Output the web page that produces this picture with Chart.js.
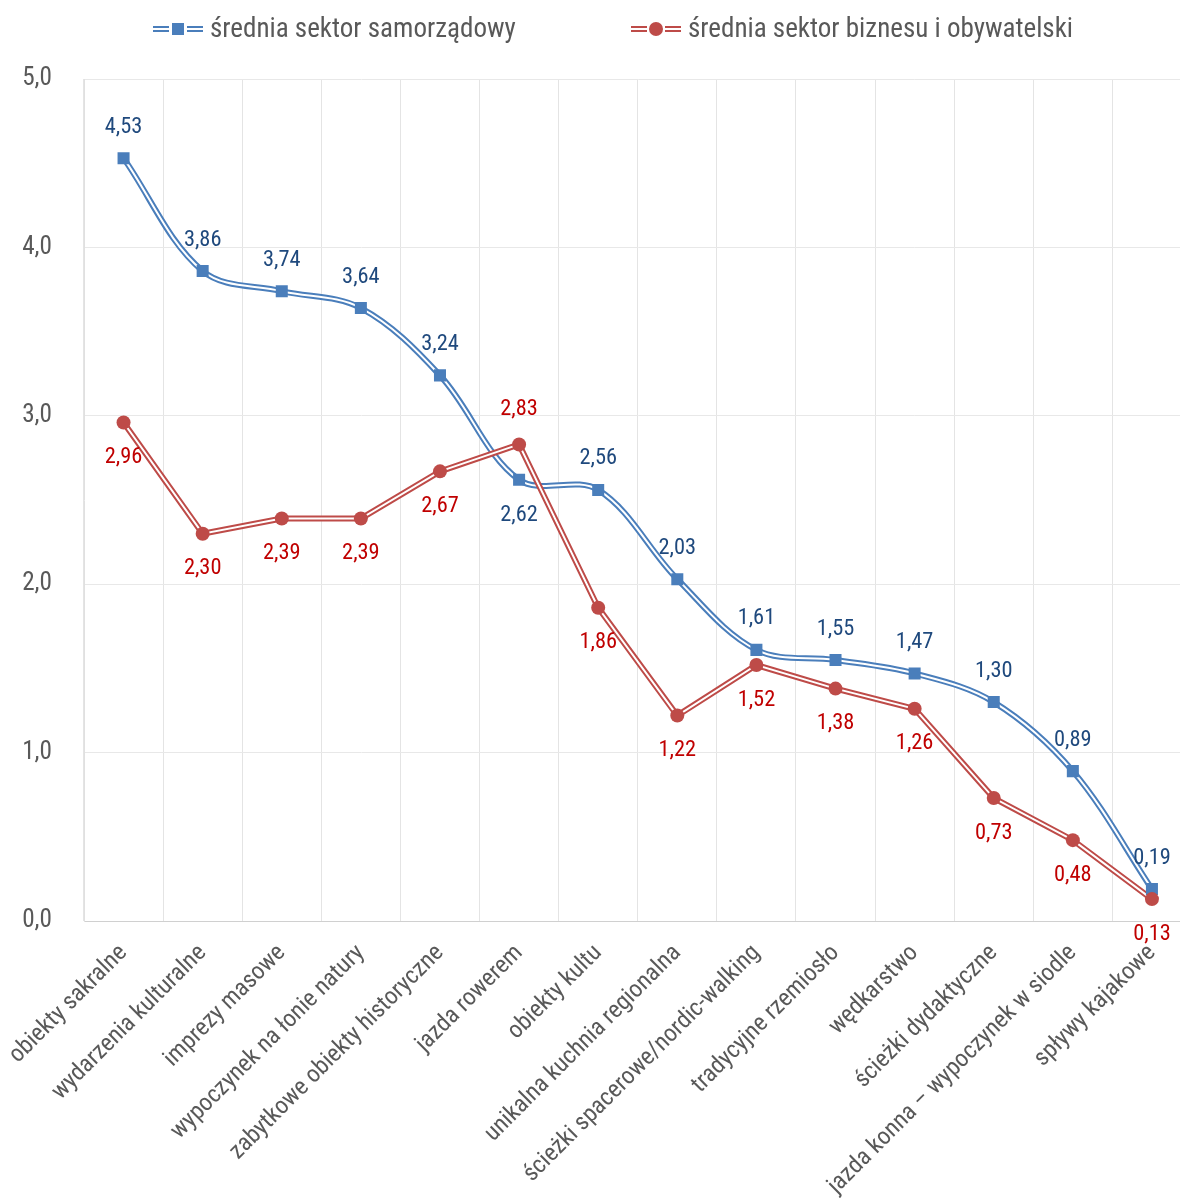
<!DOCTYPE html>
<html lang="pl">
<head>
    <meta charset="UTF-8">
    <title>Średnie oceny – sektory</title>
    <script src="https://cdn.jsdelivr.net/npm/chart.js"></script>
    <style>
        html, body { margin: 0; padding: 0; background: #fff; overflow: hidden; }
        #wrap { width: 1200px; height: 1202px; }
    </style>
</head>
<body>
    <div id="wrap"><canvas id="wykres"></canvas></div>

    <script>
        // Dane z wykresu
        const kategorie = [
            'obiekty sakralne', 'wydarzenia kulturalne', 'imprezy masowe', 'wypoczynek na łonie natury',
            'zabytkowe obiekty historyczne', 'jazda rowerem', 'obiekty kultu', 'unikalna kuchnia regionalna',
            'ścieżki spacerowe/nordic-walking', 'tradycyjne rzemiosło', 'wędkarstwo', 'ścieżki dydaktyczne',
            'jazda konna – wypoczynek w siodle', 'spływy kajakowe'
        ];
        const samorzadowy = [4.53, 3.86, 3.74, 3.64, 3.24, 2.62, 2.56, 2.03, 1.61, 1.55, 1.47, 1.30, 0.89, 0.19];
        const biznesObywatelski = [2.96, 2.30, 2.39, 2.39, 2.67, 2.83, 1.86, 1.22, 1.52, 1.38, 1.26, 0.73, 0.48, 0.13];
        const nazwySerii = ['średnia sektor samorządowy', 'średnia sektor biznesu i obywatelski'];
        // które etykiety idą pod punkt (niebieskie) / nad punkt (czerwone)
        const niebieskiePod = [5];
        const czerwoneNad = [5];
        const yTicks = [0, 1, 2, 3, 4, 5];

        const NIEBIESKI = '#4a7ebb';
        const CZERWONY = '#be4b48';
        const SZARY = '#595959';

        // szukamy wąskiego kroju (jak Arial Narrow), inaczej zwykły Liberation Sans
        const sonda = document.createElement('canvas').getContext('2d');
        function szer(font, txt) {
            sonda.font = '10px serif';
            sonda.font = font;
            return sonda.measureText(txt).width;
        }
        const PROBA = nazwySerii[0];
        const kandydaci = [
            { rodzina: 'Liberation Sans Narrow' },
            { rodzina: 'Arial Narrow' },
            { rodzina: 'Nimbus Sans Narrow' },
            { rodzina: 'Roboto Condensed' },
            { rodzina: 'Roboto', rozciag: true },
            { rodzina: 'Noto Sans', rozciag: true },
            { rodzina: 'Open Sans', rozciag: true },
            { rodzina: 'DejaVu Sans Condensed' }
        ];
        let krój = { rodzina: 'Liberation Sans' };
        for (const k of kandydaci) {
            if (k.rozciag) {
                const a = szer(`100px "${k.rodzina}", monospace`, PROBA);
                const b = szer(`condensed 100px "${k.rodzina}", monospace`, PROBA);
                if (a !== szer('100px monospace', PROBA) && b < a * 0.95) { krój = k; break; }
            } else if (szer(`100px "${k.rodzina}", monospace`, PROBA) !== szer('100px monospace', PROBA)) {
                krój = k; break;
            }
        }
        const RODZINA = `"${krój.rodzina}", "Liberation Sans", Arial, sans-serif`;
        const WAGA = krój.rozciag ? 'condensed' : 'normal';
        // dopasowanie rozmiaru do szerokości tekstu legendy (306 px)
        const w100 = szer(`normal ${WAGA} 100px ${RODZINA}`, PROBA);
        const L = 306 * 100 / w100;
        const R = { legenda: L, osY: L * 27 / 29, etykiety: L * 24 / 29, osX: L * 26 / 29 };

        Chart.defaults.font.family = RODZINA;
        Chart.defaults.font.weight = WAGA;
        Chart.defaults.color = SZARY;

        const etykietyPlugin = {
            id: 'etykiety',
            afterDatasetsDraw(chart) {
                const ctx = chart.ctx;
                ctx.save();
                ctx.font = `normal ${WAGA} ${R.etykiety}px ${RODZINA}`;
                ctx.textAlign = 'center';
                ctx.textBaseline = 'middle';
                chart.data.datasets.forEach((ds, i) => {
                    if (!ds.etykiety) return;
                    const meta = chart.getDatasetMeta(i);
                    meta.data.forEach((pt, j) => {
                        const txt = ds.data[j].toFixed(2).replace('.', ',');
                        let dy;
                        if (ds.etykiety === 'blue') dy = niebieskiePod.includes(j) ? 36 : -31;
                        else dy = czerwoneNad.includes(j) ? -35 : 35;
                        ctx.fillStyle = ds.etykiety === 'blue' ? '#1f497d' : '#c00000';
                        ctx.fillText(txt, pt.x, pt.y + dy);
                    });
                });
                ctx.restore();
            }
        };

        // legenda rysowana ręcznie: podwójna linia + znacznik
        const legendaPlugin = {
            id: 'legenda',
            afterDraw(chart) {
                const ctx = chart.ctx;
                const y = 29;
                const pozycje = [
                    { x: 153, tx: 210, kolor: NIEBIESKI, ksztalt: 'rect' },
                    { x: 631, tx: 688, kolor: CZERWONY, ksztalt: 'circle' }
                ];
                ctx.save();
                pozycje.forEach((p, i) => {
                    ctx.lineCap = 'butt';
                    ctx.strokeStyle = p.kolor; ctx.lineWidth = 6;
                    ctx.beginPath(); ctx.moveTo(p.x, y); ctx.lineTo(p.x + 50, y); ctx.stroke();
                    ctx.strokeStyle = '#fff'; ctx.lineWidth = 2;
                    ctx.beginPath(); ctx.moveTo(p.x, y); ctx.lineTo(p.x + 50, y); ctx.stroke();
                    ctx.fillStyle = '#fff';
                    ctx.fillRect(p.x + 16, y - 9, 18, 18);
                    ctx.fillStyle = p.kolor;
                    if (p.ksztalt === 'rect') {
                        ctx.fillRect(p.x + 19, y - 6, 12, 12);
                    } else {
                        ctx.beginPath(); ctx.arc(p.x + 25, y, 7, 0, Math.PI * 2); ctx.fill();
                    }
                    ctx.font = `normal ${WAGA} ${R.legenda}px ${RODZINA}`;
                    ctx.fillStyle = SZARY;
                    ctx.textAlign = 'left';
                    ctx.textBaseline = 'middle';
                    ctx.fillText(nazwySerii[i], p.tx, y + 1);
                });
                ctx.restore();
            }
        };

        const ctx = document.getElementById('wykres').getContext('2d');
        new Chart(ctx, {
            type: 'line',
            data: {
                labels: kategorie,
                datasets: [
                    { label: nazwySerii[0], data: samorzadowy, borderColor: NIEBIESKI, borderWidth: 6, pointRadius: 0, tension: 0.35, order: 60 },
                    { label: 'b-in', data: samorzadowy, borderColor: '#fff', borderWidth: 2, pointRadius: 0, tension: 0.35, order: 50 },
                    { label: nazwySerii[1], data: biznesObywatelski, borderColor: CZERWONY, borderWidth: 6, pointRadius: 0, tension: 0, order: 40 },
                    { label: 'r-in', data: biznesObywatelski, borderColor: '#fff', borderWidth: 2, pointRadius: 0, tension: 0, order: 30 },
                    { label: 'b-pt', data: samorzadowy, showLine: false, pointStyle: 'rect', pointRadius: 8.5, pointBackgroundColor: NIEBIESKI, pointBorderWidth: 0, order: 20, etykiety: 'blue' },
                    { label: 'r-pt', data: biznesObywatelski, showLine: false, pointStyle: 'circle', pointRadius: 7, pointBackgroundColor: CZERWONY, pointBorderWidth: 0, order: 10, etykiety: 'red' }
                ]
            },
            options: {
                responsive: true,
                maintainAspectRatio: false,
                animation: false,
                layout: { padding: { top: 79, right: 0, bottom: 0, left: 0 } },
                plugins: {
                    tooltip: { enabled: false },
                    legend: { display: false }
                },
                scales: {
                    x: {
                        offset: true,
                        grid: { offset: true, color: '#e4e4e4', drawTicks: false },
                        border: { color: '#d0d0d0', width: 1 },
                        ticks: { minRotation: 45, maxRotation: 45, padding: 18, autoSkip: false, font: { size: R.osX }, color: SZARY },
                        afterFit(scale) { scale.height = 281; scale.paddingLeft = 0; scale.paddingRight = 0; }
                    },
                    y: {
                        min: 0,
                        max: 5,
                        afterBuildTicks(scale) { scale.ticks = yTicks.map(v => ({ value: v })); },
                        grid: { color: '#e8e8e8', drawTicks: false },
                        border: { color: '#e0e0e0', width: 1 },
                        ticks: {
                            padding: 32,
                            font: { size: R.osY },
                            color: SZARY,
                            callback: v => v.toFixed(1).replace('.', ',')
                        },
                        afterFit(scale) { scale.width = 84; }
                    }
                }
            },
            plugins: [etykietyPlugin, legendaPlugin]
        });
    </script>
</body>
</html>
